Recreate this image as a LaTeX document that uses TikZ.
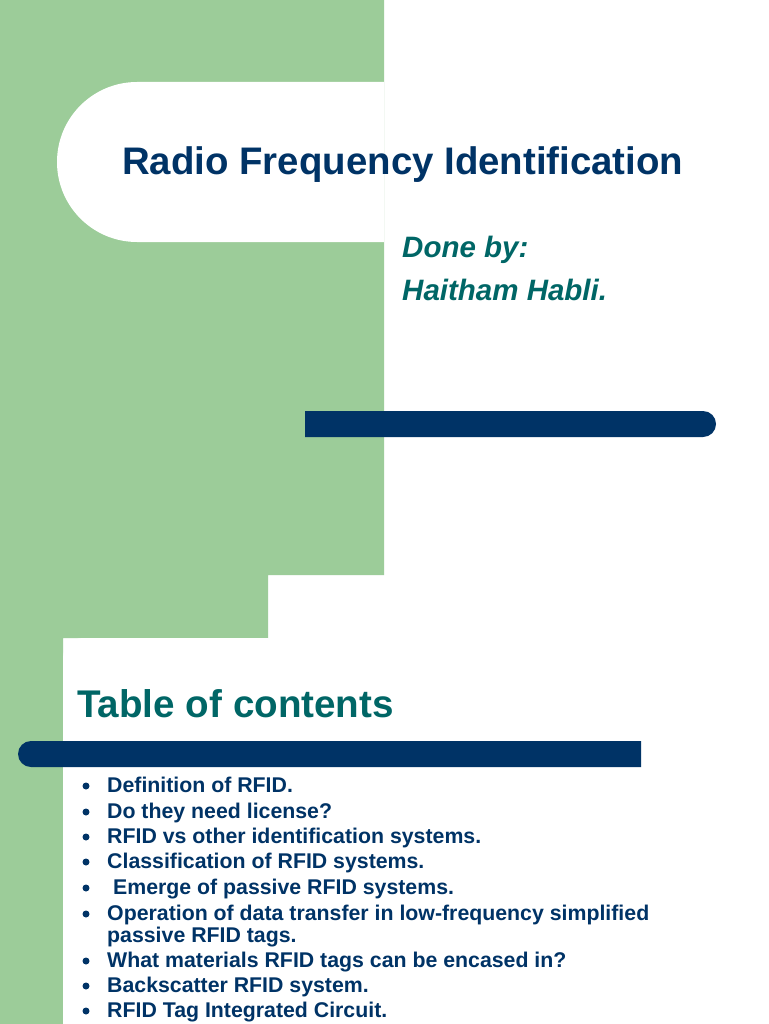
\documentclass[tikz,border=0pt]{standalone}
\usepackage{fontspec}
\setmainfont{Liberation Sans}
\definecolor{grn}{HTML}{9CCC99}
\definecolor{navy}{HTML}{003366}
\definecolor{teal2}{HTML}{006666}
\begin{document}
\begin{tikzpicture}[x=1pt,y=-1pt,
  item/.style={anchor=base west,inner sep=0,font=\bfseries\fontsize{21.3}{24}\selectfont,text=navy,align=left},
  dot/.style={circle,fill=navy,inner sep=0,minimum size=7pt}]
\useasboundingbox (0,0) rectangle (768,1024);
\fill[white] (0,0) rectangle (768,1024);
% green background
\fill[grn] (0,0) -- (384,0) -- (384,575) -- (268,575) -- (268,638) -- (63,638) -- (63,1024) -- (0,1024) -- cycle;
% white title shape
\fill[white] (384,82) -- (137,82) arc[start angle=270,end angle=90,radius=80] -- (384,242) -- cycle;
% lower white region rounded corner
\fill[white] (63,1024) -- (63,658) arc[start angle=180,end angle=270,radius=20] -- (268,638) -- (268,1024) -- cycle;
% bars
\fill[navy] (305,411) -- (703,411) arc[start angle=270,end angle=450,radius=13] -- (305,437) -- cycle;
\fill[navy] (641,741) -- (31,741) arc[start angle=270,end angle=90,radius=13] -- (641,767) -- cycle;
\node[anchor=base west,inner sep=0,text=navy,font=\bfseries\fontsize{38.4}{42}\selectfont] (title) at (122,175) {Radio Frequency Identification};
\node[anchor=base west,inner sep=0,text=teal2,font=\bfseries\itshape\fontsize{29.5}{32}\selectfont] (done) at (402,258) {Done by:};
\node[anchor=base west,inner sep=0,text=teal2,font=\bfseries\itshape\fontsize{29.5}{32}\selectfont] (name) at (402,300) {Haitham Habli.};
\node[anchor=base west,inner sep=0,text=teal2,font=\bfseries\fontsize{38.6}{42}\selectfont] (toc) at (77,717) {Table of contents};
\foreach \t/\yy [count=\i] in {{Definition of RFID.}/792,{Do they need license?}/818,{RFID vs other identification systems.}/843,{Classification of RFID systems.}/868,{\ Emerge of passive RFID systems.}/894,{Operation of data transfer in low-frequency simplified}/920,{What materials RFID tags can be encased in?}/967,{Backscatter RFID system.}/992,{RFID Tag Integrated Circuit.}/1017}{
  \node[item] (i\i) at (107,\yy) {\t};
  \node[dot] (d\i) at (86,\yy-6) {};
}
\node[item] (i6b) at (107,942) {passive RFID tags.};
\end{tikzpicture}
\end{document}
